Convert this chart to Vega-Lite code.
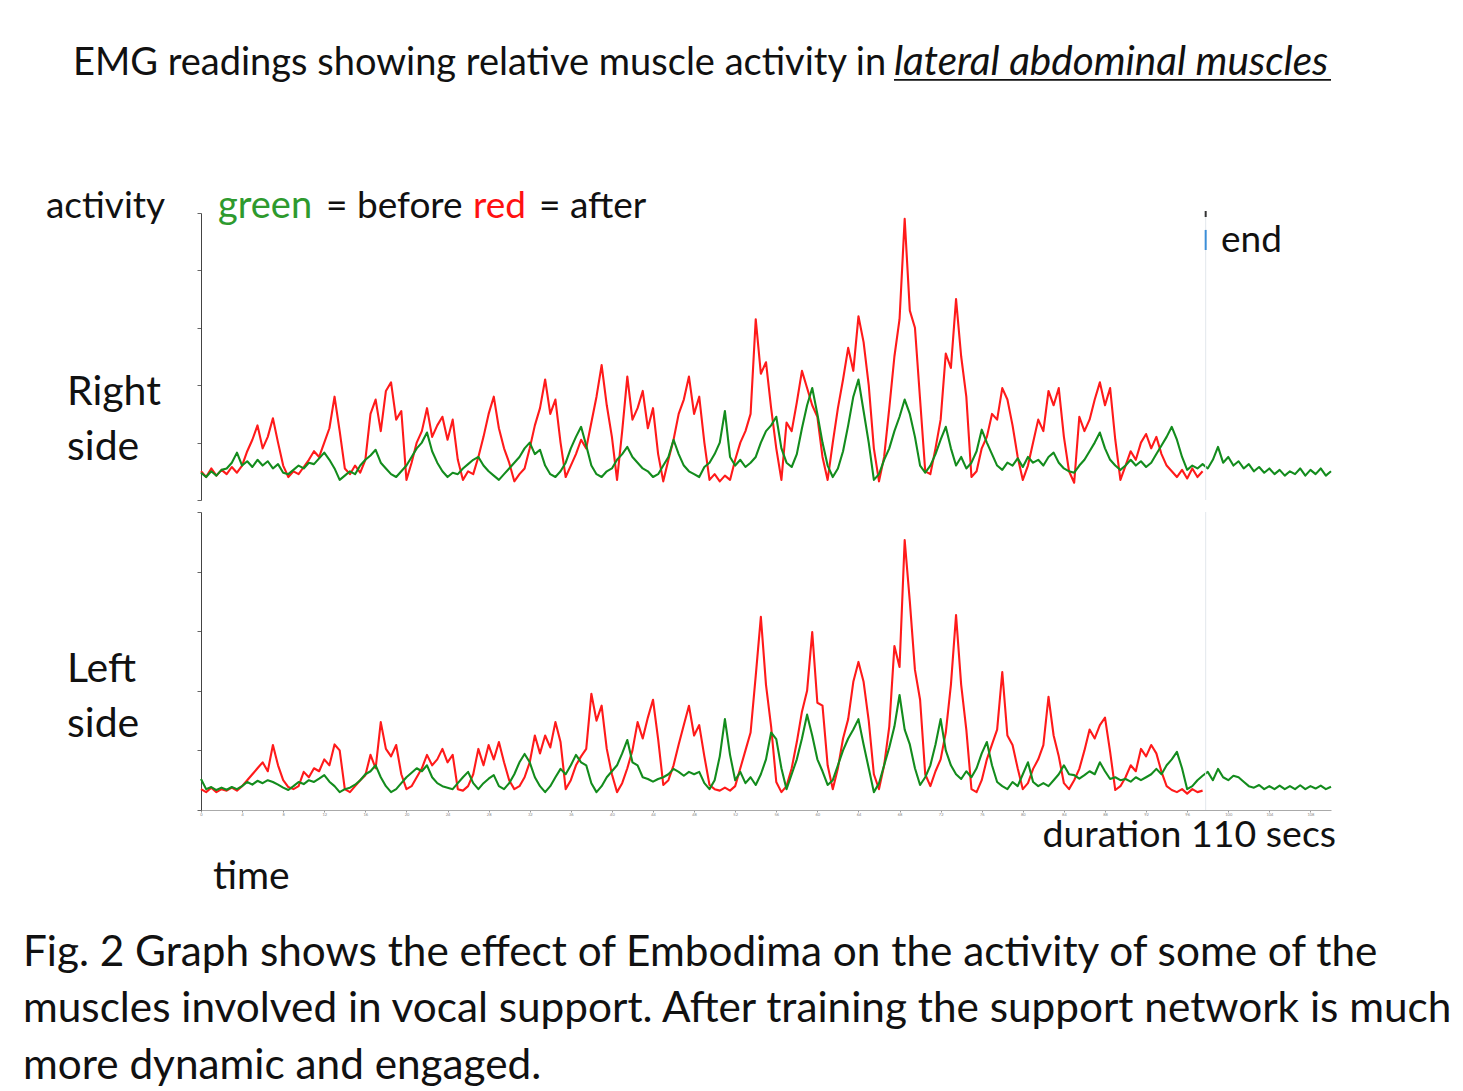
{
  "$schema": "https://vega.github.io/schema/vega-lite/v6.json",
  "background": "white",
  "padding": {"left": 22, "top": 42, "right": 0, "bottom": 0},
  "spacing": 10,
  "config": {
    "font": "Lato",
    "view": {"stroke": null},
    "text": {"font": "Lato", "color": "#111111", "align": "left", "baseline": "alphabetic"}
  },
  "datasets": {
    "emg": [
      {"t":0,"ra":10,"rb":9.5,"la":7,"lb":10.4},
      {"t":0.5,"ra":8,"rb":8,"la":6,"lb":7},
      {"t":1,"ra":11,"rb":10,"la":7.5,"lb":7.7},
      {"t":1.5,"ra":8.5,"rb":8.5,"la":6,"lb":6.7},
      {"t":2,"ra":10.5,"rb":10.5,"la":7,"lb":7.5},
      {"t":2.5,"ra":9,"rb":11,"la":6.5,"lb":6.8},
      {"t":3,"ra":11.5,"rb":13,"la":7.5,"lb":7.7},
      {"t":3.5,"ra":9.5,"rb":16.5,"la":6.5,"lb":7},
      {"t":4,"ra":12,"rb":12,"la":8,"lb":8},
      {"t":4.5,"ra":17,"rb":13.5,"la":10,"lb":9.4},
      {"t":5,"ra":21,"rb":11.5,"la":12,"lb":8.5},
      {"t":5.5,"ra":26,"rb":14,"la":14,"lb":9.8},
      {"t":6,"ra":18,"rb":12,"la":16,"lb":9},
      {"t":6.5,"ra":22,"rb":13.5,"la":13,"lb":10},
      {"t":7,"ra":28.5,"rb":11,"la":21.8,"lb":9.4},
      {"t":7.5,"ra":20,"rb":12.5,"la":15,"lb":8.5},
      {"t":8,"ra":12,"rb":9.5,"la":10,"lb":7.5},
      {"t":8.5,"ra":8,"rb":9,"la":7.7,"lb":6.7},
      {"t":9,"ra":10,"rb":10.5,"la":7,"lb":8},
      {"t":9.5,"ra":9,"rb":12,"la":8,"lb":9.4},
      {"t":10,"ra":11.5,"rb":11,"la":12.8,"lb":8.7},
      {"t":10.5,"ra":14,"rb":13,"la":11,"lb":10},
      {"t":11,"ra":17,"rb":12.5,"la":14,"lb":9.4},
      {"t":11.5,"ra":15,"rb":14.5,"la":13,"lb":10.5},
      {"t":12,"ra":20,"rb":16.5,"la":17,"lb":11.7},
      {"t":12.5,"ra":25,"rb":14,"la":15,"lb":9.5},
      {"t":13,"ra":36,"rb":11,"la":22,"lb":8},
      {"t":13.5,"ra":24,"rb":7,"la":20,"lb":6},
      {"t":14,"ra":11,"rb":8.5,"la":7,"lb":7},
      {"t":14.5,"ra":9,"rb":10,"la":6,"lb":7.5},
      {"t":15,"ra":12,"rb":9,"la":8,"lb":8.5},
      {"t":15.5,"ra":9.5,"rb":12,"la":10,"lb":10},
      {"t":16,"ra":14,"rb":14,"la":11.7,"lb":12},
      {"t":16.5,"ra":30,"rb":15.5,"la":18.5,"lb":13},
      {"t":17,"ra":35,"rb":17.5,"la":14,"lb":15},
      {"t":17.5,"ra":24,"rb":13,"la":29.5,"lb":11},
      {"t":18,"ra":38,"rb":11,"la":20.5,"lb":8},
      {"t":18.5,"ra":41,"rb":9,"la":18,"lb":6},
      {"t":19,"ra":28,"rb":8,"la":21.8,"lb":7},
      {"t":19.5,"ra":31,"rb":10,"la":12,"lb":9},
      {"t":20,"ra":7,"rb":12,"la":7,"lb":11},
      {"t":20.5,"ra":13,"rb":15,"la":8,"lb":12.5},
      {"t":21,"ra":20,"rb":18,"la":11,"lb":14},
      {"t":21.5,"ra":24,"rb":20,"la":14,"lb":13},
      {"t":22,"ra":32,"rb":23.5,"la":18.5,"lb":15},
      {"t":22.5,"ra":22,"rb":17,"la":15,"lb":11},
      {"t":23,"ra":26,"rb":13,"la":17,"lb":9},
      {"t":23.5,"ra":29,"rb":10,"la":20.5,"lb":8},
      {"t":24,"ra":21,"rb":8,"la":16,"lb":7.5},
      {"t":24.5,"ra":28,"rb":9.5,"la":18.5,"lb":7},
      {"t":25,"ra":14,"rb":9,"la":7,"lb":9},
      {"t":25.5,"ra":7,"rb":11,"la":6.5,"lb":11},
      {"t":26,"ra":10,"rb":12.5,"la":8,"lb":12.8},
      {"t":26.5,"ra":9,"rb":14,"la":12,"lb":9},
      {"t":27,"ra":15,"rb":15,"la":20.5,"lb":7},
      {"t":27.5,"ra":22,"rb":12,"la":15,"lb":9},
      {"t":28,"ra":30,"rb":10,"la":21.8,"lb":10.5},
      {"t":28.5,"ra":36,"rb":8.5,"la":17,"lb":11.7},
      {"t":29,"ra":25,"rb":7,"la":22.8,"lb":8},
      {"t":29.5,"ra":18,"rb":9,"la":16,"lb":7},
      {"t":30,"ra":13,"rb":11,"la":10,"lb":9},
      {"t":30.5,"ra":6.5,"rb":13,"la":7,"lb":12},
      {"t":31,"ra":9,"rb":15,"la":8,"lb":16},
      {"t":31.5,"ra":11,"rb":18,"la":11,"lb":18.8},
      {"t":32,"ra":18,"rb":20,"la":16,"lb":16},
      {"t":32.5,"ra":26,"rb":16,"la":25,"lb":11},
      {"t":33,"ra":32,"rb":17.5,"la":19,"lb":8},
      {"t":33.5,"ra":42,"rb":12,"la":25,"lb":6},
      {"t":34,"ra":30,"rb":9,"la":21,"lb":8},
      {"t":34.5,"ra":35,"rb":8,"la":29.5,"lb":11},
      {"t":35,"ra":20,"rb":10,"la":22.8,"lb":13.8},
      {"t":35.5,"ra":8,"rb":13,"la":7,"lb":12},
      {"t":36,"ra":12,"rb":18,"la":10,"lb":15},
      {"t":36.5,"ra":16,"rb":22,"la":15,"lb":18.5},
      {"t":37,"ra":21,"rb":25.5,"la":18,"lb":16},
      {"t":37.5,"ra":18,"rb":19,"la":20.5,"lb":15},
      {"t":38,"ra":27,"rb":12,"la":39,"lb":9},
      {"t":38.5,"ra":36,"rb":9,"la":30,"lb":6},
      {"t":39,"ra":47,"rb":8,"la":35,"lb":8},
      {"t":39.5,"ra":33,"rb":10,"la":20.5,"lb":11},
      {"t":40,"ra":22,"rb":11,"la":12,"lb":13},
      {"t":40.5,"ra":7,"rb":14,"la":6,"lb":15},
      {"t":41,"ra":24,"rb":16,"la":9,"lb":19},
      {"t":41.5,"ra":43,"rb":18.5,"la":14,"lb":23.5},
      {"t":42,"ra":28,"rb":15,"la":20,"lb":16},
      {"t":42.5,"ra":32,"rb":13,"la":29.5,"lb":15},
      {"t":43,"ra":38,"rb":11,"la":24,"lb":11},
      {"t":43.5,"ra":25,"rb":10,"la":31,"lb":10.4},
      {"t":44,"ra":32,"rb":8,"la":37,"lb":9.5},
      {"t":44.5,"ra":16,"rb":9,"la":23.8,"lb":10.4},
      {"t":45,"ra":6.5,"rb":12,"la":8.4,"lb":11},
      {"t":45.5,"ra":14,"rb":15,"la":10,"lb":12},
      {"t":46,"ra":21,"rb":21,"la":15,"lb":13.8},
      {"t":46.5,"ra":30,"rb":16,"la":22,"lb":12.8},
      {"t":47,"ra":35,"rb":12,"la":28.5,"lb":11.5},
      {"t":47.5,"ra":43,"rb":10,"la":35,"lb":12.8},
      {"t":48,"ra":30,"rb":9,"la":25,"lb":12},
      {"t":48.5,"ra":36,"rb":8,"la":28.5,"lb":12.8},
      {"t":49,"ra":20,"rb":11.5,"la":18,"lb":9},
      {"t":49.5,"ra":7,"rb":13,"la":8.4,"lb":7},
      {"t":50,"ra":9,"rb":16,"la":7,"lb":10},
      {"t":50.5,"ra":6.5,"rb":20,"la":6.5,"lb":18},
      {"t":51,"ra":8.5,"rb":31,"la":7.5,"lb":30.5},
      {"t":51.5,"ra":7,"rb":15,"la":6.5,"lb":18.5},
      {"t":52,"ra":14,"rb":12,"la":8,"lb":10},
      {"t":52.5,"ra":20,"rb":14,"la":14,"lb":12.8},
      {"t":53,"ra":24,"rb":11.5,"la":20,"lb":9},
      {"t":53.5,"ra":30,"rb":13,"la":26,"lb":11},
      {"t":54,"ra":63,"rb":15,"la":45,"lb":8.4},
      {"t":54.5,"ra":44,"rb":20,"la":64.8,"lb":12},
      {"t":55,"ra":48,"rb":24,"la":42,"lb":17},
      {"t":55.5,"ra":32,"rb":26,"la":28,"lb":26},
      {"t":56,"ra":18,"rb":29,"la":9.4,"lb":23.8},
      {"t":56.5,"ra":7,"rb":18,"la":6,"lb":14},
      {"t":57,"ra":27,"rb":13,"la":8,"lb":7},
      {"t":57.5,"ra":24,"rb":11.5,"la":14,"lb":12},
      {"t":58,"ra":34,"rb":16,"la":22.8,"lb":17},
      {"t":58.5,"ra":45,"rb":25,"la":33,"lb":24},
      {"t":59,"ra":39,"rb":33,"la":40,"lb":32},
      {"t":59.5,"ra":33,"rb":39,"la":59.7,"lb":25},
      {"t":60,"ra":29,"rb":30,"la":36,"lb":17},
      {"t":60.5,"ra":15,"rb":20,"la":35,"lb":13},
      {"t":61,"ra":7,"rb":12,"la":15,"lb":8.4},
      {"t":61.5,"ra":20,"rb":8,"la":7,"lb":10},
      {"t":62,"ra":32,"rb":11,"la":14,"lb":15},
      {"t":62.5,"ra":42,"rb":17,"la":24,"lb":20},
      {"t":63,"ra":53,"rb":26,"la":30.5,"lb":24},
      {"t":63.5,"ra":45,"rb":36,"la":43,"lb":27},
      {"t":64,"ra":64,"rb":42,"la":49.7,"lb":30.5},
      {"t":64.5,"ra":55,"rb":31,"la":43,"lb":22},
      {"t":65,"ra":40,"rb":20,"la":30,"lb":14},
      {"t":65.5,"ra":18,"rb":7,"la":12,"lb":6},
      {"t":66,"ra":6.5,"rb":9,"la":7,"lb":9},
      {"t":66.5,"ra":15,"rb":14,"la":15,"lb":15},
      {"t":67,"ra":32,"rb":18,"la":28,"lb":21},
      {"t":67.5,"ra":50,"rb":24,"la":55,"lb":28},
      {"t":68,"ra":63,"rb":29,"la":48,"lb":38.6},
      {"t":68.5,"ra":98,"rb":35,"la":90.6,"lb":27},
      {"t":69,"ra":66,"rb":30,"la":70,"lb":22},
      {"t":69.5,"ra":60,"rb":22,"la":47,"lb":14},
      {"t":70,"ra":35,"rb":12,"la":37,"lb":8.4},
      {"t":70.5,"ra":10,"rb":9.5,"la":12,"lb":11},
      {"t":71,"ra":9,"rb":12,"la":8,"lb":15},
      {"t":71.5,"ra":18,"rb":16,"la":13,"lb":22},
      {"t":72,"ra":28,"rb":21,"la":17,"lb":30.5},
      {"t":72.5,"ra":51,"rb":25.5,"la":26,"lb":20},
      {"t":73,"ra":46,"rb":18,"la":42,"lb":15},
      {"t":73.5,"ra":70,"rb":12,"la":65.4,"lb":12},
      {"t":74,"ra":50,"rb":15,"la":42,"lb":10.4},
      {"t":74.5,"ra":36,"rb":11,"la":27,"lb":13},
      {"t":75,"ra":8,"rb":13,"la":7,"lb":11},
      {"t":75.5,"ra":10,"rb":17,"la":6,"lb":14},
      {"t":76,"ra":18,"rb":24.5,"la":10,"lb":19},
      {"t":76.5,"ra":22,"rb":20,"la":17,"lb":22.8},
      {"t":77,"ra":30,"rb":16,"la":22,"lb":15},
      {"t":77.5,"ra":28,"rb":12,"la":27,"lb":9.4},
      {"t":78,"ra":39,"rb":10.5,"la":46.3,"lb":8},
      {"t":78.5,"ra":35,"rb":13,"la":25,"lb":7},
      {"t":79,"ra":26,"rb":12,"la":21.8,"lb":9.4},
      {"t":79.5,"ra":15,"rb":14.5,"la":14,"lb":8},
      {"t":80,"ra":7,"rb":11.5,"la":7,"lb":12},
      {"t":80.5,"ra":12,"rb":15,"la":9,"lb":16},
      {"t":81,"ra":20,"rb":13,"la":13.8,"lb":9.4},
      {"t":81.5,"ra":28,"rb":14,"la":17,"lb":8},
      {"t":82,"ra":24,"rb":12,"la":21.8,"lb":9},
      {"t":82.5,"ra":38,"rb":15,"la":38,"lb":8},
      {"t":83,"ra":33,"rb":16.5,"la":25,"lb":10},
      {"t":83.5,"ra":39,"rb":13,"la":18,"lb":12},
      {"t":84,"ra":22,"rb":11,"la":9,"lb":15},
      {"t":84.5,"ra":10,"rb":10,"la":7,"lb":12},
      {"t":85,"ra":6,"rb":9.5,"la":10,"lb":11.7},
      {"t":85.5,"ra":29,"rb":12,"la":13.8,"lb":10.5},
      {"t":86,"ra":24,"rb":14,"la":20,"lb":11.7},
      {"t":86.5,"ra":28,"rb":17,"la":27,"lb":13},
      {"t":87,"ra":35,"rb":20,"la":24,"lb":12},
      {"t":87.5,"ra":41,"rb":23.5,"la":28.5,"lb":16},
      {"t":88,"ra":33,"rb":18,"la":31,"lb":13},
      {"t":88.5,"ra":39,"rb":14,"la":19.5,"lb":10.4},
      {"t":89,"ra":21,"rb":12,"la":6.7,"lb":11},
      {"t":89.5,"ra":7,"rb":10.5,"la":8,"lb":10},
      {"t":90,"ra":12,"rb":12,"la":11,"lb":10.4},
      {"t":90.5,"ra":17,"rb":14,"la":15,"lb":9.5},
      {"t":91,"ra":14,"rb":12,"la":13,"lb":11},
      {"t":91.5,"ra":20,"rb":13.5,"la":20.5,"lb":10},
      {"t":92,"ra":23,"rb":11.5,"la":18,"lb":11},
      {"t":92.5,"ra":18,"rb":13,"la":21.8,"lb":12},
      {"t":93,"ra":22,"rb":16,"la":19,"lb":13.8},
      {"t":93.5,"ra":16,"rb":19,"la":12.8,"lb":12},
      {"t":94,"ra":12,"rb":22,"la":8,"lb":15},
      {"t":94.5,"ra":10,"rb":25.5,"la":6.7,"lb":17},
      {"t":95,"ra":8,"rb":21,"la":6,"lb":19.5},
      {"t":95.5,"ra":10.5,"rb":15,"la":7,"lb":14},
      {"t":96,"ra":7.5,"rb":10.5,"la":5.5,"lb":7},
      {"t":96.5,"ra":11,"rb":12,"la":7,"lb":8},
      {"t":97,"ra":8,"rb":11,"la":6,"lb":10},
      {"t":97.5,"ra":10,"rb":12.5,"la":6.5,"lb":11.5},
      {"t":98,"rb":11,"lb":12.8},
      {"t":98.5,"rb":14,"lb":10},
      {"t":99,"rb":18.5,"lb":13.8},
      {"t":99.5,"rb":13,"lb":11},
      {"t":100,"rb":15,"lb":10},
      {"t":100.5,"rb":12,"lb":11.5},
      {"t":101,"rb":13.5,"lb":11},
      {"t":101.5,"rb":11,"lb":9.5},
      {"t":102,"rb":12.5,"lb":8},
      {"t":102.5,"rb":10,"lb":7.5},
      {"t":103,"rb":11.5,"lb":8.4},
      {"t":103.5,"rb":9.5,"lb":7},
      {"t":104,"rb":11,"lb":8},
      {"t":104.5,"rb":9,"lb":7},
      {"t":105,"rb":10.5,"lb":8.2},
      {"t":105.5,"rb":8.5,"lb":7},
      {"t":106,"rb":10,"lb":8},
      {"t":106.5,"rb":9,"lb":7},
      {"t":107,"rb":11,"lb":8.3},
      {"t":107.5,"rb":8.5,"lb":7},
      {"t":108,"rb":10.5,"lb":8},
      {"t":108.5,"rb":9,"lb":7.2},
      {"t":109,"rb":11,"lb":8.2},
      {"t":109.5,"rb":8.5,"lb":7},
      {"t":110,"rb":10,"lb":7.8}
    ]
  },
  "vconcat": [
    {
      "width": 1130,
      "height": 287,
      "layer": [
        {
          "data": {"name": "emg"},
          "mark": {"type": "line", "color": "#ff1a1a", "strokeWidth": 2.1, "strokeJoin": "round"},
          "encoding": {
            "x": {"field": "t", "type": "quantitative", "scale": {"domain": [0, 110], "nice": false, "zero": false}, "axis": null},
            "y": {"field": "ra", "type": "quantitative", "scale": {"domain": [0, 100], "nice": false},
                  "axis": {"title": null, "labels": false, "grid": false, "tickSize": 4, "tickColor": "#666666", "domainColor": "#444444", "values": [0,10,20,30,40,50,60,70,80,90,100]}}
          }
        },
        {
          "data": {"name": "emg"},
          "mark": {"type": "line", "color": "#138c1d", "strokeWidth": 2.1, "strokeJoin": "round"},
          "encoding": {
            "x": {"field": "t", "type": "quantitative"},
            "y": {"field": "rb", "type": "quantitative"}
          }
        },
        {
          "data": {"values": [{}]},
          "mark": {"type": "rule", "color": "#e3e7ec", "strokeWidth": 1},
          "encoding": {"x": {"datum": 97.8, "type": "quantitative"}}
        },
        {
          "data": {"values": [{}]},
          "mark": {"type": "rule", "color": "#3b8ed8", "strokeWidth": 2},
          "encoding": {"x": {"datum": 97.8, "type": "quantitative"}, "y": {"datum": 87.1, "type": "quantitative"}, "y2": {"datum": 94.1}}
        },
        {
          "data": {"values": [{}]},
          "mark": {"type": "rule", "color": "#333333", "strokeWidth": 2},
          "encoding": {"x": {"datum": 97.8, "type": "quantitative"}, "y": {"datum": 98.6, "type": "quantitative"}, "y2": {"datum": 100.7}}
        },
        {
          "data": {"values": [{}]},
          "mark": {"type": "text", "text": "EMG readings showing relative muscle activity in", "fontSize": 38},
          "encoding": {"x": {"datum": -12.46, "type": "quantitative"}, "y": {"datum": 148.1, "type": "quantitative"}}
        },
        {
          "data": {"values": [{}]},
          "mark": {"type": "text", "text": "lateral abdominal muscles", "fontSize": 40.5, "fontStyle": "italic"},
          "encoding": {"x": {"datum": 67.46, "type": "quantitative"}, "y": {"datum": 148.1, "type": "quantitative"}}
        },
        {
          "data": {"values": [{}]},
          "mark": {"type": "rule", "color": "#111111", "strokeWidth": 1.8},
          "encoding": {"x": {"datum": 67.46, "type": "quantitative"}, "x2": {"datum": 110.0}, "y": {"datum": 146.4, "type": "quantitative"}}
        },
        {
          "data": {"values": [{}]},
          "mark": {"type": "text", "text": "activity", "fontSize": 37},
          "encoding": {"x": {"datum": -15.09, "type": "quantitative"}, "y": {"datum": 98.3, "type": "quantitative"}}
        },
        {
          "data": {"values": [{}]},
          "mark": {"type": "text", "text": "green", "fontSize": 38, "color": "#2e9a2e"},
          "encoding": {"x": {"datum": 1.65, "type": "quantitative"}, "y": {"datum": 98.3, "type": "quantitative"}}
        },
        {
          "data": {"values": [{}]},
          "mark": {"type": "text", "text": "= before", "fontSize": 37},
          "encoding": {"x": {"datum": 12.17, "type": "quantitative"}, "y": {"datum": 98.3, "type": "quantitative"}}
        },
        {
          "data": {"values": [{}]},
          "mark": {"type": "text", "text": "red", "fontSize": 37, "color": "#ff1111"},
          "encoding": {"x": {"datum": 26.48, "type": "quantitative"}, "y": {"datum": 98.3, "type": "quantitative"}}
        },
        {
          "data": {"values": [{}]},
          "mark": {"type": "text", "text": "= after", "fontSize": 37},
          "encoding": {"x": {"datum": 32.9, "type": "quantitative"}, "y": {"datum": 98.3, "type": "quantitative"}}
        },
        {
          "data": {"values": [{}]},
          "mark": {"type": "text", "text": "end", "fontSize": 37},
          "encoding": {"x": {"datum": 99.29, "type": "quantitative"}, "y": {"datum": 86.4, "type": "quantitative"}}
        },
        {
          "data": {"values": [{}]},
          "mark": {"type": "text", "text": "Right", "fontSize": 41},
          "encoding": {"x": {"datum": -13.04, "type": "quantitative"}, "y": {"datum": 33.1, "type": "quantitative"}}
        },
        {
          "data": {"values": [{}]},
          "mark": {"type": "text", "text": "side", "fontSize": 41},
          "encoding": {"x": {"datum": -13.04, "type": "quantitative"}, "y": {"datum": 13.9, "type": "quantitative"}}
        }
      ]
    },
    {
      "width": 1130,
      "height": 298,
      "layer": [
        {
          "data": {"name": "emg"},
          "mark": {"type": "line", "color": "#ff1a1a", "strokeWidth": 2.1, "strokeJoin": "round"},
          "encoding": {
            "x": {"field": "t", "type": "quantitative", "scale": {"domain": [0, 110], "nice": false, "zero": false},
                  "axis": {"title": null, "grid": false, "values": [0,2,4,6,8,10,12,14,16,18,20,22,24,26,28,30,32,34,36,38,40,42,44,46,48,50,52,54,56,58,60,62,64,66,68,70,72,74,76,78,80,82,84,86,88,90,92,94,96,98,100,102,104,106,108,110], "labelFontSize": 4, "labelColor": "#888888", "tickSize": 2, "tickColor": "#999999", "domainColor": "#aaaaaa", "labelPadding": 0, "labelFlush": false}},
            "y": {"field": "la", "type": "quantitative", "scale": {"domain": [0, 100], "nice": false},
                  "axis": {"title": null, "labels": false, "grid": false, "tickSize": 4, "tickColor": "#666666", "domainColor": "#444444", "values": [0,10,20,30,40,50,60,70,80,90,100]}}
          }
        },
        {
          "data": {"name": "emg"},
          "mark": {"type": "line", "color": "#138c1d", "strokeWidth": 2.1, "strokeJoin": "round"},
          "encoding": {
            "x": {"field": "t", "type": "quantitative"},
            "y": {"field": "lb", "type": "quantitative"}
          }
        },
        {
          "data": {"values": [{}]},
          "mark": {"type": "rule", "color": "#e3e7ec", "strokeWidth": 1},
          "encoding": {"x": {"datum": 97.8, "type": "quantitative"}}
        },
        {
          "data": {"values": [{}]},
          "mark": {"type": "text", "text": "Left", "fontSize": 41},
          "encoding": {"x": {"datum": -13.04, "type": "quantitative"}, "y": {"datum": 42.95, "type": "quantitative"}}
        },
        {
          "data": {"values": [{}]},
          "mark": {"type": "text", "text": "side", "fontSize": 41},
          "encoding": {"x": {"datum": -13.04, "type": "quantitative"}, "y": {"datum": 24.5, "type": "quantitative"}}
        },
        {
          "data": {"values": [{}]},
          "mark": {"type": "text", "text": "duration 110 secs", "fontSize": 37.5, "align": "right"},
          "encoding": {"x": {"datum": 110.49, "type": "quantitative"}, "y": {"datum": -12.42, "type": "quantitative"}}
        },
        {
          "data": {"values": [{}]},
          "mark": {"type": "text", "text": "time", "fontSize": 39},
          "encoding": {"x": {"datum": 1.17, "type": "quantitative"}, "y": {"datum": -26.5, "type": "quantitative"}}
        },
        {
          "data": {"values": [{}]},
          "mark": {"type": "text", "text": "Fig. 2 Graph shows the effect of Embodima on the activity of some of the", "fontSize": 42.3, "limit": 1441},
          "encoding": {"x": {"datum": -17.33, "type": "quantitative"}, "y": {"datum": -52.4, "type": "quantitative"}}
        },
        {
          "data": {"values": [{}]},
          "mark": {"type": "text", "text": "muscles involved in vocal support. After training the support network is much", "fontSize": 42.3, "limit": 1441},
          "encoding": {"x": {"datum": -17.33, "type": "quantitative"}, "y": {"datum": -71.3, "type": "quantitative"}}
        },
        {
          "data": {"values": [{}]},
          "mark": {"type": "text", "text": "more dynamic and engaged.", "fontSize": 42.3, "limit": 1441},
          "encoding": {"x": {"datum": -17.33, "type": "quantitative"}, "y": {"datum": -90.2, "type": "quantitative"}}
        }
      ]
    }
  ]
}
